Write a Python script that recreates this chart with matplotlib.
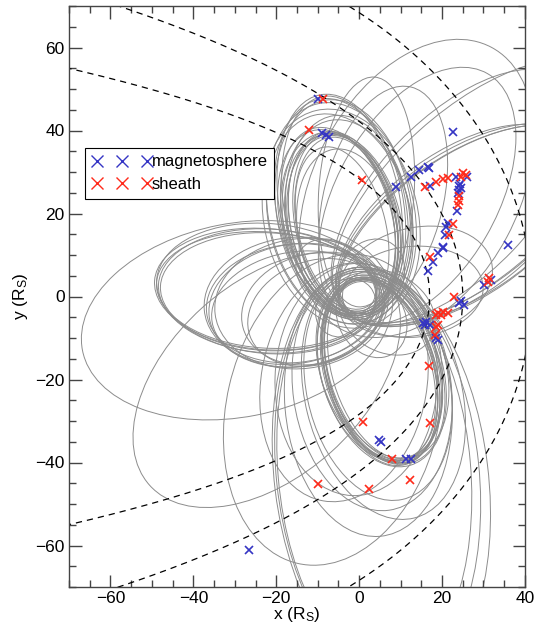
import numpy as np
import matplotlib
import matplotlib.pyplot as plt
from matplotlib.patches import Ellipse
from matplotlib.lines import Line2D

matplotlib.use('Agg')

plt.rcParams['font.family'] = ['Liberation Sans', 'DejaVu Sans']
plt.rcParams['mathtext.fontset'] = 'custom'
plt.rcParams['mathtext.rm'] = 'Liberation Sans'
plt.rcParams['mathtext.it'] = 'Liberation Sans:italic'

# spacecraft orbits, Saturn at one focus: periapsis, apoapsis (R_S), apoapsis direction (deg)
orb_rp = [4.0, 4.5, 5.0, 5.5, 6.5, 4.0, 4.5, 3.5, 4.0, 4.0, 4.5, 4.5, 5.0, 3.5, 5.0, 6.5, 3.0, 5.5, 7.5, 4.0,
          4.0, 4.0, 4.5, 4.5, 5.0, 3.5, 4.0, 5.0, 4.5, 3.8, 5.5, 4.2,
          6.0, 7.0, 6.5, 8.0, 8.0, 7.0, 6.0, 7.0, 6.5, 10.0,
          4.0, 4.3, 4.6, 5.0, 4.2, 8.0, 8.0,
          5.5, 6.0, 6.5, 5.0, 7.0, 6.0, 5.5,
          4.0, 4.3, 4.6, 4.8,
          9.0, 2.5, 4.0, 5.0, 5.0, 6.0,
          4.0, 5.0, 3.5, 4.0, 4.5, 3.5, 4.0]
orb_ra = [49.0, 49.5, 48.5, 48.0, 47.5, 42.0, 41.5, 40.0, 40.5, 40.0, 40.0, 39.5, 40.5, 39.0, 44.0, 45.0, 37.0, 43.0, 46.0, 36.0,
          41.5, 41.0, 41.5, 42.0, 41.0, 40.5, 42.0, 42.5, 40.5, 41.8, 41.0, 40.8,
          50.0, 52.0, 55.0, 48.0, 50.0, 58.0, 90.0, 95.0, 92.0, 66.0,
          49.0, 49.5, 48.5, 49.0, 48.0, 68.0, 68.0,
          37.0, 36.5, 37.5, 36.0, 35.0, 29.0, 28.0,
          65.0, 66.0, 65.5, 63.0,
          68.0, 53.0, 52.0, 80.0, 72.0, 62.0,
          30.0, 33.0, 18.0, 15.0, 20.0, 12.0, 16.0]
orb_phi = [100.5, 101.0, 101.5, 100.0, 102.0, 105.5, 106.0, 101.5, 102.0, 102.5, 103.0, 102.0, 103.5, 101.0, 98.0, 104.0, 104.0, 99.0, 103.0, 100.0,
           -73.0, -72.5, -73.5, -72.0, -74.0, -73.0, -74.5, -73.0, -72.0, -73.8, -71.5, -74.2,
           -78.0, -82.0, -76.0, -92.0, -100.0, -85.0, -85.0, -83.0, -84.0, -103.0,
           176.0, 175.5, 176.5, 175.0, 177.0, 191.0, 222.0,
           186.0, 188.0, 185.0, 190.0, 187.0, 195.0, 200.0,
           35.0, 34.0, 34.5, 36.0,
           62.0, 86.0, 76.0, 42.0, 46.0, 60.0,
           5.0, 15.0, 140.0, 60.0, -30.0, 220.0, 300.0]

# magnetopause models r = r0 * (2 / (1 + cos t))**K
mp_r0 = [17.0, 25.0]
mp_k = [0.74, 0.755]
# bow shock conic r = L / (1 + eps * cos t)
bs_l = [68.4]
bs_eps = [0.644]

# boundary crossings
mag_x = [-9.9, -8.9, -8.1, -7.3, 8.8, 22.6, 16.6, 16.9, 14.4, 12.6, 17.0, 23.4, 26.0, 24.2, 24.0, 24.6, 24.4, 23.8,
         23.6, 21.4, 21.0, 20.6, 20.2, 35.8, 20.2, 19.0, 17.8, 16.6, 31.8, 30.2, 24.6, 24.2, 25.4, 16.2, 17.0, 15.8,
         18.6, 19.0, 15.4, 4.9, 5.3, 11.4, 12.6, -26.6]
mag_y = [47.5, 39.3, 38.9, 38.4, 26.3, 39.7, 31.1, 30.9, 30.5, 28.9, 26.6, 28.9, 28.7, 26.6, 25.7, 26.1, 27.2, 24.9,
         20.6, 17.6, 16.8, 14.8, 12.0, 12.4, 11.6, 10.4, 8.4, 6.2, 4.0, 2.8, -1.2, -1.6, -2.0, -6.1, -6.9, -6.9,
         -10.1, -10.5, -6.5, -34.6, -35.0, -39.1, -39.1, -61.2]
sh_x = [-8.7, -12.1, 0.8, 15.8, 18.6, 20.2, 21.4, 25.0, 25.7, 24.6, 24.2, 24.0, 23.8, 22.6, 21.8, 17.0, 31.4, 31.0,
        22.8, 19.0, 20.2, 21.4, 18.6, 19.8, 19.0, 18.6, 18.2, 16.8, 0.9, 17.1, 8.0, -9.9, 2.4, 12.3]
sh_y = [47.5, 40.1, 28.1, 26.3, 27.7, 28.3, 28.6, 29.7, 29.3, 28.9, 24.1, 23.1, 22.0, 17.5, 14.8, 9.6, 4.4, 3.6,
        -0.2, -3.9, -3.7, -4.0, -4.5, -4.5, -6.9, -7.4, -9.3, -16.7, -30.2, -30.4, -39.1, -45.2, -46.4, -44.3]

mag_col = '#3535c4'
sh_col = '#ff2a1a'

fig = plt.figure(figsize=(5.37, 6.25), dpi=100)
ax = fig.add_axes([0.1285, 0.0608, 0.849, 0.9296])

# orbits
for rp, ra, phi in zip(orb_rp, orb_ra, orb_phi):
    c = (ra - rp) / 2.0
    p = np.radians(phi)
    e = Ellipse((c * np.cos(p), c * np.sin(p)), width=ra + rp, height=2 * np.sqrt(ra * rp),
                angle=phi, fill=False, edgecolor='#8c8c8c', linewidth=0.7, zorder=1)
    ax.add_patch(e)

# boundary models
t = np.radians(np.linspace(-179, 179, 721))
for r0, k in zip(mp_r0, mp_k):
    r = r0 * (2.0 / (1.0 + np.cos(t))) ** k
    ax.plot(r * np.cos(t), r * np.sin(t), color='k', linestyle=(0, (5, 4)), linewidth=0.9, zorder=2)
tb = np.radians(np.linspace(-128, 128, 600))
for L, eps in zip(bs_l, bs_eps):
    r = L / (1.0 + eps * np.cos(tb))
    ax.plot(r * np.cos(tb), r * np.sin(tb), color='k', linestyle=(0, (5, 4)), linewidth=0.9, zorder=2)

ax.plot(mag_x, mag_y, linestyle='none', marker='x', color=mag_col, markersize=5.5, markeredgewidth=1.2, zorder=3)
ax.plot(sh_x, sh_y, linestyle='none', marker='x', color=sh_col, markersize=5.5, markeredgewidth=1.2, zorder=4)

ax.set_xlim(-70, 40)
ax.set_ylim(-70, 70)
ax.set_xticks(np.arange(-60, 41, 20))
ax.set_yticks(np.arange(-60, 61, 20))
ax.set_xticks(np.arange(-70, 41, 5), minor=True)
ax.set_yticks(np.arange(-70, 71, 5), minor=True)
ax.set_xticklabels(['\u221260', '\u221240', '\u221220', '0', '20', '40'])
ax.set_yticklabels(['\u221260', '\u221240', '\u221220', '0', '20', '40', '60'])
ax.tick_params(which='both', direction='in', top=True, right=True, labelsize=12.5, color='#444444')
ax.tick_params(which='major', length=9, width=1, pad=3)
ax.tick_params(which='minor', length=5, width=1)
for s in ax.spines.values():
    s.set_linewidth(1.0)
    s.set_color('#444444')

ax.set_xlabel(r'x (R$_\mathrm{S}$)', fontsize=12.5, labelpad=-1)
ax.set_ylabel(r'y (R$_\mathrm{S}$)', fontsize=12.5, labelpad=4)

handles = [Line2D([], [], linestyle='none', marker='x', color=mag_col, markersize=8, markeredgewidth=1.0),
           Line2D([], [], linestyle='none', marker='x', color=sh_col, markersize=8, markeredgewidth=1.0)]
leg = ax.legend(handles, ['magnetosphere', 'sheath'], loc='upper left', bbox_to_anchor=(0.035, 0.756),
                borderaxespad=0, numpoints=3, handlelength=3.6, handletextpad=0.0, fontsize=12,
                frameon=True, fancybox=False, edgecolor='k', framealpha=1, borderpad=0.4, labelspacing=0.45)
leg.get_frame().set_linewidth(0.8)

fig.savefig('out.png', dpi=100)
